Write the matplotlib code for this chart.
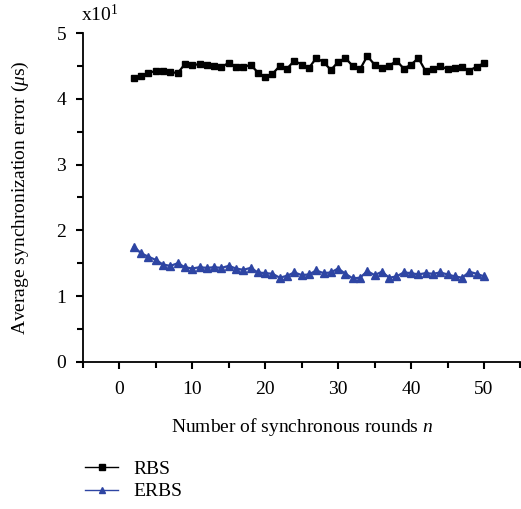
import numpy as np
import matplotlib
matplotlib.use("Agg")
import matplotlib.pyplot as plt
from matplotlib.ticker import MultipleLocator
from matplotlib.lines import Line2D

# ---------- DATA ----------
rounds = list(range(2, 51))
rbs = [4.32, 4.34, 4.40, 4.42, 4.42, 4.41, 4.39, 4.53, 4.51, 4.53,
       4.52, 4.50, 4.48, 4.55, 4.49, 4.48, 4.52, 4.40, 4.33, 4.38,
       4.50, 4.46, 4.58, 4.52, 4.47, 4.62, 4.56, 4.44, 4.56, 4.62,
       4.50, 4.45, 4.65, 4.52, 4.47, 4.50, 4.58, 4.46, 4.52, 4.62,
       4.42, 4.46, 4.50, 4.45, 4.47, 4.48, 4.43, 4.49, 4.54]
erbs = [1.75, 1.65, 1.60, 1.55, 1.48, 1.46, 1.50, 1.44, 1.42, 1.44,
        1.43, 1.44, 1.43, 1.46, 1.42, 1.40, 1.43, 1.36, 1.35, 1.34,
        1.28, 1.31, 1.36, 1.32, 1.33, 1.39, 1.35, 1.36, 1.42, 1.34,
        1.27, 1.28, 1.38, 1.32, 1.37, 1.28, 1.30, 1.36, 1.35, 1.33,
        1.35, 1.34, 1.36, 1.33, 1.30, 1.28, 1.37, 1.34, 1.30]
series_names = ["RBS", "ERBS"]
xticks = [0, 10, 20, 30, 40, 50]
yticks = [0, 1, 2, 3, 4, 5]
# --------------------------

plt.rcParams['font.family'] = ['Liberation Serif', 'DejaVu Serif']
plt.rcParams['mathtext.fontset'] = 'custom'
plt.rcParams['mathtext.it'] = 'Liberation Serif:italic'
plt.rcParams['mathtext.rm'] = 'Liberation Serif'

BLUE = "#2e45a3"
FS = 14

fig = plt.figure(figsize=(5.21, 5.09), dpi=100)
ax = fig.add_axes([0.159, 0.289, 0.84, 0.646])

ax.plot(rounds, rbs, color="black", lw=1.6, marker="s", ms=4.5)
ax.plot(rounds, erbs, color=BLUE, lw=1.6, marker="^", ms=5.5)

ax.set_xlim(-5, 55)
ax.set_ylim(0, 5)
ax.set_xticks(xticks)
ax.set_yticks(yticks)
ax.xaxis.set_minor_locator(MultipleLocator(5))
ax.yaxis.set_minor_locator(MultipleLocator(0.5))
ax.tick_params(which="major", direction="out", length=5, width=1.5, labelsize=FS)
ax.tick_params(which="minor", direction="out", length=4, width=1.5)
ax.tick_params(axis="x", pad=9)
ax.tick_params(axis="y", pad=7)
for s in ["top", "right"]:
    ax.spines[s].set_visible(False)
for s in ["left", "bottom"]:
    ax.spines[s].set_linewidth(1.3)

ax.set_xlabel("Number of synchronous rounds $n$", fontsize=FS, labelpad=13)
ax.set_ylabel("Average synchronization error ($\\mu$s)", fontsize=FS, labelpad=18)
ax.text(-5.3, 5.12, "x10$^1$", fontsize=FS, ha="left", va="bottom")

handles = [Line2D([], [], color="black", lw=1.0, marker="s", ms=4),
           Line2D([], [], color=BLUE, lw=1.0, marker="^", ms=5)]
fig.legend(handles, series_names, loc="upper left", bbox_to_anchor=(0.13, 0.13),
           frameon=False, fontsize=FS, handlelength=1.7, handletextpad=0.8,
           labelspacing=0.25)

fig.savefig("out.png", dpi=100)
